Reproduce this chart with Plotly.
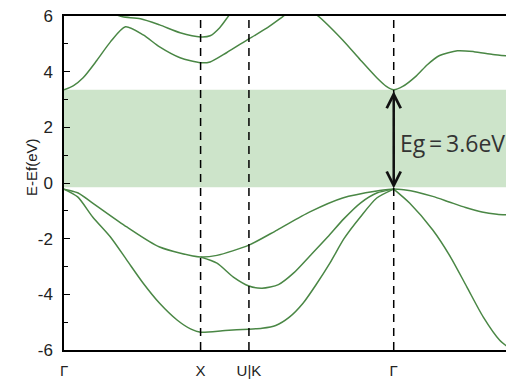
import plotly.graph_objects as go

# k-path positions (Gamma-X-U|K-Gamma-L, fcc)
k_ticks = [0, 1.0, 1.354, 2.414, 3.28]
k_labels = ['Γ', 'X', 'U|K', 'Γ', 'L']
e_ticks = [-6, -4, -2, 0, 2, 4, 6]
e_labels = ['-6', '-4', '-2', '0', '2', '4', '6']

# conduction bands
cb1_k = [0, 0.07, 0.14, 0.24, 0.34, 0.45, 0.58, 0.70, 0.85, 1.0, 1.07, 1.19, 1.354,
         1.49, 1.60, 1.72, 1.85, 2.04, 2.17, 2.29, 2.36, 2.414, 2.48, 2.58, 2.66, 2.75,
         2.88, 3.0, 3.14, 3.28]
cb1_e = [3.35, 3.5, 3.78, 4.4, 5.07, 5.61, 5.32, 4.89, 4.5, 4.32, 4.35, 4.68, 5.18,
         5.58, 5.97, 6.4, 6.04, 5.14, 4.42, 3.78, 3.47, 3.35, 3.47, 3.85, 4.25, 4.58,
         4.75, 4.72, 4.62, 4.55]
cb2_k = [0.38, 0.43, 0.56, 0.70, 0.85, 1.0, 1.07, 1.14, 1.2, 1.25]
cb2_e = [6.05, 5.97, 5.9, 5.68, 5.4, 5.25, 5.29, 5.58, 5.97, 6.3]

# valence bands, Gamma-X-U|K-Gamma
vb1_k = [0, 0.1, 0.21, 0.46, 0.70, 1.0, 1.12, 1.354, 1.56, 1.80, 2.04, 2.29, 2.414]
vb1_e = [-0.22, -0.35, -0.72, -1.58, -2.3, -2.66, -2.6, -2.23, -1.69, -1.04, -0.54, -0.29, -0.22]
vb2_k = [1.0, 1.12, 1.24, 1.354, 1.45, 1.57, 1.68, 1.80, 1.93, 2.05, 2.17, 2.29, 2.414]
vb2_e = [-2.66, -2.88, -3.38, -3.7, -3.78, -3.65, -3.24, -2.62, -1.94, -1.28, -0.72, -0.36, -0.22]
vb3_k = [0, 0.1, 0.21, 0.34, 0.46, 0.58, 0.70, 0.83, 0.93, 1.0, 1.18, 1.354,
         1.45, 1.55, 1.65, 1.75, 1.85, 1.95, 2.05, 2.17, 2.29, 2.414]
vb3_e = [-0.22, -0.5, -1.22, -1.94, -2.77, -3.6, -4.32, -4.93, -5.25, -5.36, -5.3, -5.25,
         -5.22, -5.12, -4.82, -4.32, -3.62, -2.85, -2.0, -1.22, -0.54, -0.22]

# valence bands, Gamma-L
vbl1_k = [2.414, 2.5, 2.58, 2.7, 2.82, 2.94, 3.06, 3.17, 3.28]
vbl1_e = [-0.22, -0.25, -0.32, -0.48, -0.68, -0.88, -1.04, -1.12, -1.15]
vbl2_k = [2.414, 2.53, 2.70, 2.83, 2.95, 3.07, 3.19, 3.28]
vbl2_e = [-0.22, -0.72, -1.69, -2.66, -3.74, -4.82, -5.65, -6.0]

vbm = -0.15
cbm = 3.35

bands = [(cb1_k, cb1_e), (cb2_k, cb2_e), (vb1_k, vb1_e), (vb2_k, vb2_e),
         (vb3_k, vb3_e), (vbl1_k, vbl1_e), (vbl2_k, vbl2_e)]

fig = go.Figure()
for k, e in bands:
    fig.add_trace(go.Scatter(x=k, y=e, mode='lines', showlegend=False,
                             line=dict(color='#4a8745', width=1.5, shape='spline', smoothing=0.7)))

# gap region
fig.add_shape(type='rect', xref='x', yref='y', x0=0, x1=k_ticks[-1], y0=vbm, y1=cbm,
              fillcolor='#cde4ca', line_width=0, layer='below')

# high symmetry lines
for kv in k_ticks[1:4]:
    fig.add_shape(type='line', xref='x', yref='y', x0=kv, x1=kv, y0=-6, y1=6,
                  line=dict(color='black', width=1.5, dash='8px,6px'))

# gap arrow
fig.add_annotation(x=k_ticks[3], y=-0.2, ax=k_ticks[3], ay=cbm, xref='x', yref='y',
                   axref='x', ayref='y', text='', showarrow=True, arrowside='end+start',
                   arrowhead=5, arrowsize=1.1, arrowwidth=2.5, arrowcolor='#111')
fig.add_annotation(x=2.445, y=1.44, xref='x', yref='y', text='Eg\u2009=\u20093.6eV', showarrow=False,
                   xanchor='left', yanchor='middle',
                   font=dict(family='Open Sans', size=23, color='#333'))

fig.add_annotation(x=-0.0714, y=0.548, xref='paper', yref='paper', text='E-Ef(eV)',
                   textangle=-90, showarrow=False, xanchor='center', yanchor='middle',
                   font=dict(family='Liberation Sans', size=15, color='#222'))

fig.update_xaxes(range=[0, k_ticks[-1]], tickvals=k_ticks, ticktext=k_labels, ticks='',
                 showgrid=False, zeroline=False, showline=True, linecolor='black',
                 linewidth=1.5, mirror=True, automargin=False, ticklabelstandoff=6,
                 ticklabeloverflow='allow',
                 tickfont=dict(family='Liberation Sans', size=15, color='#222'))
fig.update_yaxes(range=[-6, 6], tickvals=e_ticks, ticktext=e_labels, ticks='inside',
                 ticklen=6, tickwidth=1.2, tickcolor='black',
                 minor=dict(dtick=1, ticks='inside', ticklen=4, tickcolor='black'),
                 showgrid=False, zeroline=False, showline=True, linecolor='black',
                 linewidth=1.5, mirror='ticks', ticklabelstandoff=6, automargin=False,
                 ticklabeloverflow='allow',
                 tickfont=dict(family='Liberation Sans', size=17, color='#222'))

# page body adds an 8px offset, so the figure is sized to fit the window
fig.update_layout(width=506, height=373, margin=dict(l=56, r=2, t=8, b=31),
                  plot_bgcolor='white', paper_bgcolor='white')

fig.write_html("out.html")
